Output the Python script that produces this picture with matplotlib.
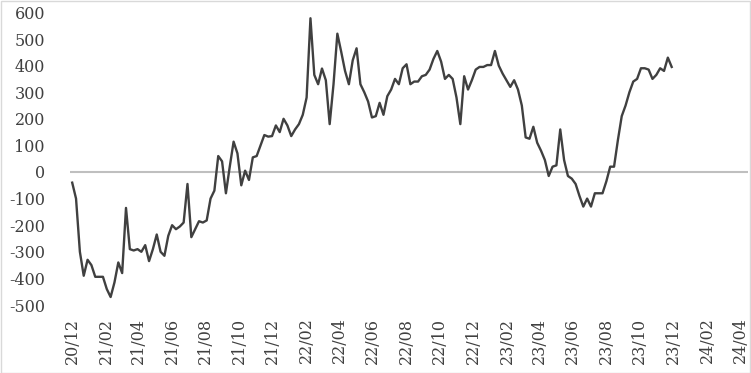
import matplotlib
matplotlib.use("Agg")
import matplotlib.pyplot as plt
import matplotlib.dates as mdates
import pandas as pd
from matplotlib.patches import Rectangle

# weekly series
start_date = "2020-12-01"
values = [
    -40, -100, -300, -390, -330, -350, -394, -394, -394, -440,
    -470, -415, -340, -380, -135, -290, -295, -290, -300, -275,
    -335, -290, -235, -300, -315, -240, -200, -215, -205, -190,
    -45, -245, -215, -185, -190, -182, -100, -70, 60, 40,
    -80, 20, 114, 70, -50, 5, -30, 55, 60, 100,
    139, 133, 135, 175, 150, 200, 175, 135, 160, 180,
    215, 280, 578, 365, 330, 389, 345, 180, 330, 520,
    452, 380, 330, 420, 465, 330, 300, 265, 205, 210,
    260, 215, 285, 310, 350, 330, 390, 405, 330, 340,
    340, 360, 365, 385, 425, 455, 415, 350, 365, 350,
    280, 180, 360, 310, 345, 385, 395, 395, 402, 402,
    455, 400, 370, 345, 320, 345, 310, 250, 130, 125,
    170, 110, 80, 45, -15, 20, 25, 160, 45, -15,
    -25, -45, -90, -130, -100, -130, -80, -80, -80, -35,
    20, 20, 120, 210, 250, 300, 340, 350, 390, 390,
    385, 350, 365, 390, 380, 430, 395,
]
dates = pd.date_range(start_date, periods=len(values), freq="7D")

y_ticks = list(range(-500, 601, 100))
x_min, x_max = "2020-11-27", "2024-04-15"

plt.rcParams["axes.unicode_minus"] = False

fig = plt.figure(figsize=(7.51, 3.73), dpi=100)
ax = fig.add_axes([70 / 751, 1 - 305 / 373, 678 / 751, (305 - 12.4) / 373])

ax.axhline(0, color="#bfbfbf", linewidth=1.5, zorder=1)
ax.plot(dates, values, color="#404040", linewidth=1.7, zorder=2)

ax.set_ylim(-500, 600)
ax.set_yticks(y_ticks)
ax.set_xlim(pd.Timestamp(x_min), pd.Timestamp(x_max))
ax.xaxis.set_major_locator(mdates.MonthLocator(bymonth=[2, 4, 6, 8, 10, 12]))
ax.xaxis.set_major_formatter(mdates.DateFormatter("%y/%m"))

for side in ["top", "right", "bottom", "left"]:
    ax.spines[side].set_visible(False)

font = {"family": "DejaVu Serif", "size": 11.5}
ax.tick_params(axis="y", length=0, pad=18, colors="#404040")
ax.tick_params(axis="x", length=0, pad=9, colors="#404040")
for lab in ax.get_yticklabels():
    lab.set_fontfamily(font["family"])
    lab.set_fontsize(font["size"])
for lab in ax.get_xticklabels():
    lab.set_fontfamily(font["family"])
    lab.set_fontsize(font["size"])
    lab.set_rotation(90)
    lab.set_va("top")
    lab.set_ha("center")

# thin frame around the whole picture
fig.patches.append(Rectangle((0.5 / 751, 0.5 / 373), 749.5 / 751, 371.5 / 373,
                             transform=fig.transFigure, fill=False,
                             edgecolor="#d9d9d9", linewidth=1.0))

fig.savefig("out.png", dpi=100)
